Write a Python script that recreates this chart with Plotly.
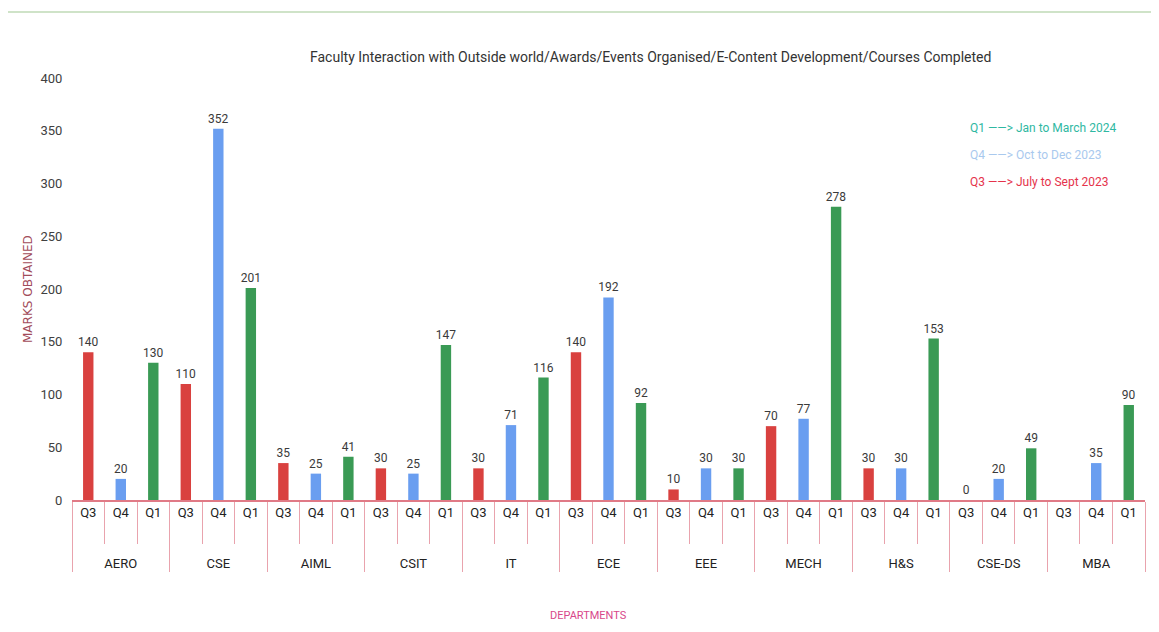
import plotly.graph_objects as go

DEPARTMENTS = ["AERO", "CSE", "AIML", "CSIT", "IT", "ECE", "EEE", "MECH", "H&S", "CSE-DS", "MBA"]
QUARTERS = ["Q3", "Q4", "Q1"]
Q3_MARKS = [140, 110, 35, 30, 30, 140, 10, 70, 30, 0, None]
Q4_MARKS = [20, 352, 25, 25, 71, 192, 30, 77, 30, 20, 35]
Q1_MARKS = [130, 201, 41, 147, 116, 92, 30, 278, 153, 49, 90]

Q_COLORS = {"Q3": "#d9413f", "Q4": "#6a9ef0", "Q1": "#3a9a55"}
LEGEND_LINES = [
    ("Q1 ——> Jan to March 2024", "#2fb8a2"),
    ("Q4 ——> Oct to Dec 2023", "#a9c9ee"),
    ("Q3 ——> July to Sept 2023", "#e5334b"),
]

FONT = "Roboto, sans-serif"
LINE_COLOR = "#e9a3ad"

# plot area in screenshot pixels: x 72..1145, y 78..500 (page body adds 8px)
PW, PH = 1073, 422

# interleave quarters inside each department
marks_by_q = {"Q3": Q3_MARKS, "Q4": Q4_MARKS, "Q1": Q1_MARKS}
x_dept, x_q, y_vals, colors, texts = [], [], [], [], []
for i, dept in enumerate(DEPARTMENTS):
    for q in QUARTERS:
        v = marks_by_q[q][i]
        # leading breaks push the department row down, like the Excel table axis
        x_dept.append("<br><br>" + dept)
        x_q.append(q)
        y_vals.append(v)
        colors.append(Q_COLORS[q])
        texts.append("" if v is None else str(v))

fig = go.Figure(
    go.Bar(
        x=[x_dept, x_q],
        y=y_vals,
        marker=dict(color=colors, line=dict(width=0)),
        text=texts,
        textposition="outside",
        constraintext="none",
        textfont=dict(family=FONT, size=12, color="#3a3a3a"),
        cliponaxis=False,
        showlegend=False,
    )
)

fig.update_layout(
    width=1151,
    height=624,
    margin=dict(l=64, r=14, t=70, b=132),
    paper_bgcolor="#ffffff",
    plot_bgcolor="#ffffff",
    bargap=0.68,
    font=dict(family=FONT, size=13, color="#333333"),
)
fig.update_yaxes(
    range=[0, 400],
    dtick=50,
    showgrid=False,
    zeroline=False,
    showline=False,
    ticks="outside",
    ticklen=6,
    tickcolor="rgba(0,0,0,0)",
    tickfont=dict(family=FONT, size=13, color="#404040"),
)
fig.update_xaxes(
    showline=True,
    linecolor="#e07a86",
    linewidth=1.5,
    showgrid=False,
    tickson="boundaries",
    ticks="outside",
    ticklen=42,
    tickcolor=LINE_COLOR,
    showdividers=True,
    dividercolor=LINE_COLOR,
    dividerwidth=1,
    tickfont=dict(family=FONT, size=13, color="#222222"),
)

fig.add_annotation(
    text="Faculty Interaction with Outside world/Awards/Events Organised/E-Content Development/Courses Completed",
    xref="paper", yref="paper", x=(650 - 72) / PW, y=1 + (78 - 57) / PH, yanchor="middle",
    showarrow=False, font=dict(family=FONT, size=14, color="#333333"),
)
fig.add_annotation(
    text="MARKS OBTAINED",
    xref="paper", yref="paper", x=(28 - 72) / PW, y=(500 - 289) / PH,
    xanchor="center", yanchor="middle",
    textangle=-90, showarrow=False,
    font=dict(family="DejaVu Sans, sans-serif", size=12, color="#a24c5a"),
)
fig.add_annotation(
    text="DEPARTMENTS",
    xref="paper", yref="paper", x=(588 - 72) / PW, y=-(615 - 500) / PH, yanchor="middle",
    showarrow=False, font=dict(family=FONT, size=11, color="#d8478a"),
)
for k, (label, col) in enumerate(LEGEND_LINES):
    fig.add_annotation(
        text=label,
        xref="paper", yref="paper", x=(968 - 72) / PW, y=(500 - (128 + 27 * k)) / PH,
        xanchor="left", yanchor="middle", showarrow=False, font=dict(family=FONT, size=12, color=col),
    )

# scanned page border
fig.add_shape(type="line", xref="paper", yref="paper",
              x0=-64 / PW, x1=1 + 14 / PW, y0=1 + 66 / PH, y1=1 + 66 / PH,
              line=dict(color="#cfe3c8", width=2))
fig.add_shape(type="line", xref="paper", yref="paper",
              x0=-66 / PW, x1=-66 / PW, y0=1 + 66 / PH, y1=-126 / PH,
              line=dict(color="#e6e6e6", width=1))

fig.write_html("out.html")
